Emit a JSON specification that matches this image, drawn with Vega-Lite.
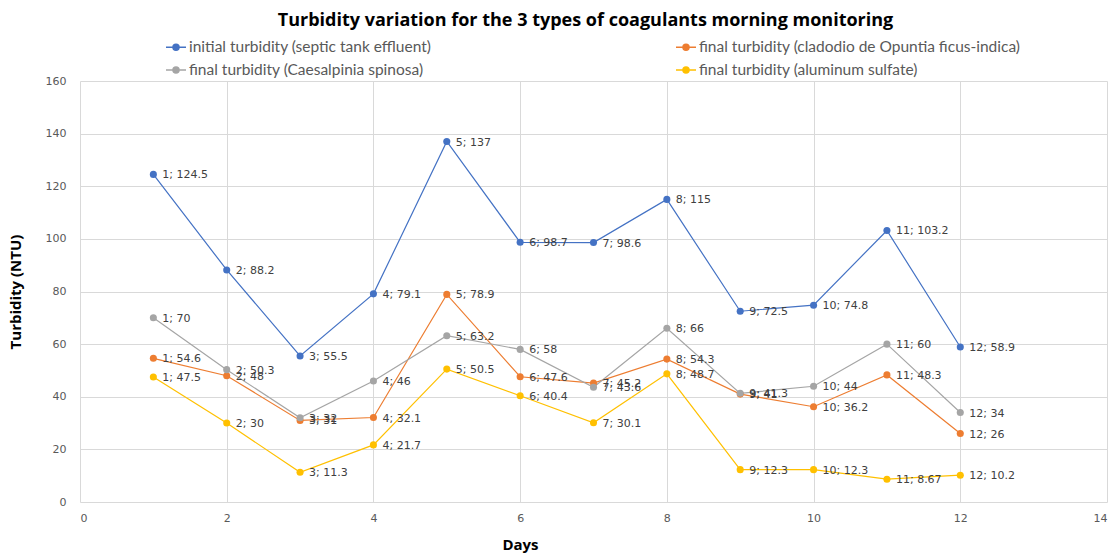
{
  "$schema": "https://vega.github.io/schema/vega-lite/v6.json",
  "width": 1027,
  "height": 421,
  "autosize": {"type": "none"},
  "padding": {"left": 80, "top": 81, "right": 10, "bottom": 54},
  "background": "white",
  "title": {
    "text": "Turbidity variation for the 3 types of coagulants morning monitoring",
    "font": "Open Sans",
    "fontSize": 18,
    "fontWeight": "bold",
    "color": "#000000",
    "anchor": "middle",
    "frame": "group",
    "dx": -8,
    "offset": 6
  },
  "data": {
    "values": [
      {"day": 1, "series": "initial turbidity (septic tank effluent)", "value": 124.5, "label": "1; 124.5"},
      {"day": 2, "series": "initial turbidity (septic tank effluent)", "value": 88.2, "label": "2; 88.2"},
      {"day": 3, "series": "initial turbidity (septic tank effluent)", "value": 55.5, "label": "3; 55.5"},
      {"day": 4, "series": "initial turbidity (septic tank effluent)", "value": 79.1, "label": "4; 79.1"},
      {"day": 5, "series": "initial turbidity (septic tank effluent)", "value": 137, "label": "5; 137"},
      {"day": 6, "series": "initial turbidity (septic tank effluent)", "value": 98.7, "label": "6; 98.7"},
      {"day": 7, "series": "initial turbidity (septic tank effluent)", "value": 98.6, "label": "7; 98.6"},
      {"day": 8, "series": "initial turbidity (septic tank effluent)", "value": 115, "label": "8; 115"},
      {"day": 9, "series": "initial turbidity (septic tank effluent)", "value": 72.5, "label": "9; 72.5"},
      {"day": 10, "series": "initial turbidity (septic tank effluent)", "value": 74.8, "label": "10; 74.8"},
      {"day": 11, "series": "initial turbidity (septic tank effluent)", "value": 103.2, "label": "11; 103.2"},
      {"day": 12, "series": "initial turbidity (septic tank effluent)", "value": 58.9, "label": "12; 58.9"},
      {"day": 1, "series": "final turbidity (cladodio de Opuntia ficus-indica)", "value": 54.6, "label": "1; 54.6"},
      {"day": 2, "series": "final turbidity (cladodio de Opuntia ficus-indica)", "value": 48, "label": "2; 48"},
      {"day": 3, "series": "final turbidity (cladodio de Opuntia ficus-indica)", "value": 31, "label": "3; 31"},
      {"day": 4, "series": "final turbidity (cladodio de Opuntia ficus-indica)", "value": 32.1, "label": "4; 32.1"},
      {"day": 5, "series": "final turbidity (cladodio de Opuntia ficus-indica)", "value": 78.9, "label": "5; 78.9"},
      {"day": 6, "series": "final turbidity (cladodio de Opuntia ficus-indica)", "value": 47.6, "label": "6; 47.6"},
      {"day": 7, "series": "final turbidity (cladodio de Opuntia ficus-indica)", "value": 45.2, "label": "7; 45.2"},
      {"day": 8, "series": "final turbidity (cladodio de Opuntia ficus-indica)", "value": 54.3, "label": "8; 54.3"},
      {"day": 9, "series": "final turbidity (cladodio de Opuntia ficus-indica)", "value": 41, "label": "9; 41"},
      {"day": 10, "series": "final turbidity (cladodio de Opuntia ficus-indica)", "value": 36.2, "label": "10; 36.2"},
      {"day": 11, "series": "final turbidity (cladodio de Opuntia ficus-indica)", "value": 48.3, "label": "11; 48.3"},
      {"day": 12, "series": "final turbidity (cladodio de Opuntia ficus-indica)", "value": 26, "label": "12; 26"},
      {"day": 1, "series": "final turbidity (Caesalpinia spinosa)", "value": 70, "label": "1; 70"},
      {"day": 2, "series": "final turbidity (Caesalpinia spinosa)", "value": 50.3, "label": "2; 50.3"},
      {"day": 3, "series": "final turbidity (Caesalpinia spinosa)", "value": 32, "label": "3; 32"},
      {"day": 4, "series": "final turbidity (Caesalpinia spinosa)", "value": 46, "label": "4; 46"},
      {"day": 5, "series": "final turbidity (Caesalpinia spinosa)", "value": 63.2, "label": "5; 63.2"},
      {"day": 6, "series": "final turbidity (Caesalpinia spinosa)", "value": 58, "label": "6; 58"},
      {"day": 7, "series": "final turbidity (Caesalpinia spinosa)", "value": 43.6, "label": "7; 43.6"},
      {"day": 8, "series": "final turbidity (Caesalpinia spinosa)", "value": 66, "label": "8; 66"},
      {"day": 9, "series": "final turbidity (Caesalpinia spinosa)", "value": 41.3, "label": "9; 41.3"},
      {"day": 10, "series": "final turbidity (Caesalpinia spinosa)", "value": 44, "label": "10; 44"},
      {"day": 11, "series": "final turbidity (Caesalpinia spinosa)", "value": 60, "label": "11; 60"},
      {"day": 12, "series": "final turbidity (Caesalpinia spinosa)", "value": 34, "label": "12; 34"},
      {"day": 1, "series": "final turbidity (aluminum sulfate)", "value": 47.5, "label": "1; 47.5"},
      {"day": 2, "series": "final turbidity (aluminum sulfate)", "value": 30, "label": "2; 30"},
      {"day": 3, "series": "final turbidity (aluminum sulfate)", "value": 11.3, "label": "3; 11.3"},
      {"day": 4, "series": "final turbidity (aluminum sulfate)", "value": 21.7, "label": "4; 21.7"},
      {"day": 5, "series": "final turbidity (aluminum sulfate)", "value": 50.5, "label": "5; 50.5"},
      {"day": 6, "series": "final turbidity (aluminum sulfate)", "value": 40.4, "label": "6; 40.4"},
      {"day": 7, "series": "final turbidity (aluminum sulfate)", "value": 30.1, "label": "7; 30.1"},
      {"day": 8, "series": "final turbidity (aluminum sulfate)", "value": 48.7, "label": "8; 48.7"},
      {"day": 9, "series": "final turbidity (aluminum sulfate)", "value": 12.3, "label": "9; 12.3"},
      {"day": 10, "series": "final turbidity (aluminum sulfate)", "value": 12.3, "label": "10; 12.3"},
      {"day": 11, "series": "final turbidity (aluminum sulfate)", "value": 8.67, "label": "11; 8.67"},
      {"day": 12, "series": "final turbidity (aluminum sulfate)", "value": 10.2, "label": "12; 10.2"}
    ]
  },
  "encoding": {
    "x": {
      "field": "day",
      "type": "quantitative",
      "scale": {"domain": [0, 14], "nice": false},
      "axis": {
        "title": "Days",
        "values": [0, 2, 4, 6, 8, 10, 12, 14],
        "grid": true,
        "domain": false,
        "ticks": false,
        "labelPadding": 10,
        "titleX": 440,
        "titlePadding": 14
      }
    },
    "y": {
      "field": "value",
      "type": "quantitative",
      "scale": {"domain": [0, 160], "nice": false},
      "axis": {
        "title": "Turbidity (NTU)",
        "values": [0, 20, 40, 60, 80, 100, 120, 140, 160],
        "grid": true,
        "domain": false,
        "ticks": false,
        "labelPadding": 14,
        "titlePadding": 22
      }
    },
    "color": {
      "field": "series",
      "type": "nominal",
      "sort": [
        "initial turbidity (septic tank effluent)",
        "final turbidity (Caesalpinia spinosa)",
        "final turbidity (cladodio de Opuntia ficus-indica)",
        "final turbidity (aluminum sulfate)"
      ],
      "scale": {
        "domain": [
          "initial turbidity (septic tank effluent)",
          "final turbidity (Caesalpinia spinosa)",
          "final turbidity (cladodio de Opuntia ficus-indica)",
          "final turbidity (aluminum sulfate)"
        ],
        "range": ["#4472C4", "#A5A5A5", "#ED7D31", "#FFC000"]
      },
      "legend": {
        "title": null,
        "orient": "none",
        "legendX": 85,
        "legendY": -45,
        "columns": 2,
        "columnPadding": 241,
        "rowPadding": 3,
        "symbolType": "M-1,0L1,0M-0.3,0A0.3,0.3,0,1,1,0.3,0A0.3,0.3,0,1,1,-0.3,0Z",
        "symbolSize": 400,
        "symbolStrokeWidth": 1.5,
        "labelFont": "Lato",
        "labelFontSize": 15.5,
        "labelColor": "#595959",
        "labelOffset": 2,
        "labelLimit": 400,
        "encode": {
          "symbols": {
            "update": {
              "fill": {"scale": "color", "field": "value"},
              "stroke": {"scale": "color", "field": "value"},
              "opacity": {"value": 1}
            }
          }
        }
      }
    }
  },
  "layer": [
    {
      "mark": {"type": "line", "strokeWidth": 1.2, "point": {"filled": true, "size": 50, "opacity": 1}}
    },
    {
      "mark": {"type": "text", "align": "left", "baseline": "middle", "dx": 9, "dy": 1, "font": "DejaVu Sans", "fontSize": 11, "color": "#404040"},
      "encoding": {
        "text": {"field": "label", "type": "nominal"},
        "color": {"value": "#404040"}
      }
    }
  ],
  "config": {
    "view": {"stroke": null},
    "axis": {
      "gridColor": "#d9d9d9",
      "gridWidth": 1,
      "labelFont": "DejaVu Sans",
      "labelFontSize": 11,
      "labelColor": "#595959",
      "titleFont": "Open Sans",
      "titleFontSize": 15,
      "titleFontWeight": "bold",
      "titleColor": "#000000"
    }
  }
}
